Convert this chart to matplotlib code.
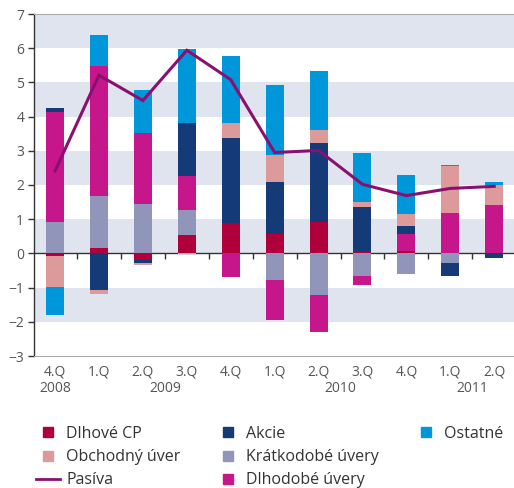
import matplotlib
matplotlib.use('Agg')
import matplotlib.pyplot as plt
import numpy as np
from matplotlib.lines import Line2D
from matplotlib.transforms import blended_transform_factory

quarters = ['4.Q', '1.Q', '2.Q', '3.Q', '4.Q', '1.Q', '2.Q', '3.Q', '4.Q', '1.Q', '2.Q']
years = ['2008', '2009', '2009', '2009', '2009', '2010', '2010', '2010', '2010', '2011', '2011']

dlhove_cp = [-0.09, 0.16, -0.18, 0.54, 0.88, 0.57, 0.93, 0.06, 0.08, 0.0, 0.0]
kratkodobe = [0.93, 1.52, 1.45, 0.73, 0.0, -0.77, -1.23, -0.65, -0.59, -0.27, 0.0]
dlhodobe = [3.20, 3.79, 2.07, 0.99, -0.68, -1.19, -1.07, -0.26, 0.49, 1.19, 1.42]
akcie = [0.11, -1.06, -0.09, 1.55, 2.49, 1.52, 2.30, 1.29, 0.24, -0.40, -0.12]
obchodny = [-0.90, -0.14, -0.06, -0.02, 0.44, 0.79, 0.38, 0.16, 0.35, 1.37, 0.58]
ostatne = [-0.82, 0.93, 1.25, 2.16, 1.95, 2.04, 1.72, 1.42, 1.13, 0.03, 0.09]
pasiva = [2.41, 5.21, 4.47, 5.94, 5.08, 2.95, 3.01, 2.02, 1.69, 1.90, 1.96]

series = [
    ('Dlhové CP', dlhove_cp, '#b0003c'),
    ('Krátkodobé úvery', kratkodobe, '#9095b9'),
    ('Dlhodobé úvery', dlhodobe, '#c6168c'),
    ('Akcie', akcie, '#143a77'),
    ('Obchodný úver', obchodny, '#dc9a9b'),
    ('Ostatné', ostatne, '#0096da'),
]

plt.rcParams['font.family'] = ['Open Sans', 'DejaVu Sans']
txt_col = '#555555'

fig = plt.figure(figsize=(5.14, 4.88), dpi=100)
ax = fig.add_axes([34/514, 1 - 356/488, 1 - 34/514, (356 - 14)/488])

x = np.arange(len(quarters))
ax.set_xlim(-0.48, len(quarters) - 0.55)
ax.set_ylim(-3, 7)

for lo in [6, 4, 2, 0, -2]:
    ax.axhspan(lo, lo + 1, color='#dfe4ee', zorder=0, lw=0)

pos = np.zeros(len(x))
neg = np.zeros(len(x))
width = 0.41
for name, vals, col in series:
    v = np.array(vals)
    bottom = np.where(v >= 0, pos, neg)
    ax.bar(x, v, width, bottom=bottom, color=col, zorder=2, lw=0, label=name)
    pos = pos + np.where(v >= 0, v, 0)
    neg = neg + np.where(v < 0, v, 0)

ax.plot(x, pasiva, color='#8b0f6f', lw=2.2, zorder=3, solid_joinstyle='miter', label='Pasíva')

ax.spines['right'].set_visible(False)
ax.spines['top'].set_color('#aaaaaa')
ax.spines['bottom'].set_color('#aaaaaa')
ax.spines['left'].set_color('#333333')
ax.spines['left'].set_linewidth(1.0)

ax.set_yticks(range(-3, 8))
ax.tick_params(axis='y', direction='out', length=4, width=1, color='#333333',
               labelcolor=txt_col, labelsize=10, pad=3)
ax.set_xticks(x)
ax.set_xticklabels(quarters)
ax.tick_params(axis='x', length=0, labelcolor=txt_col, labelsize=10, pad=6)

# zero line with boundary ticks
sec = ax.secondary_xaxis(0.3)
sec.set_xticks(x[:-1] + 0.5)
sec.tick_params(direction='out', length=4, width=1, color='#333333', labelbottom=False)
sec.spines['bottom'].set_color('#333333')
sec.spines['bottom'].set_linewidth(1.0)

trans = blended_transform_factory(ax.transData, ax.transAxes)
yrs = []
for y in years:
    if y not in yrs:
        yrs.append(y)
for y in yrs:
    idx = [i for i, yy in enumerate(years) if yy == y]
    ax.text(np.mean(idx), -0.094, y, transform=trans, ha='center', va='center',
            fontsize=10, color=txt_col)

handles = {name: Line2D([], [], marker='s', ls='none', color=col, markersize=7)
           for name, vals, col in series}
handles['Pasíva'] = Line2D([], [], color='#8b0f6f', lw=2)
blank = Line2D([], [], ls='none')
order = ['Dlhové CP', 'Obchodný úver', 'Pasíva', 'Akcie', 'Krátkodobé úvery',
         'Dlhodobé úvery', 'Ostatné']
hl = [handles[o] for o in order] + [blank, blank]
labs = order + ['', '']
leg = fig.legend(hl, labs, ncol=3, loc='upper left',
                 bbox_to_anchor=(36/514, 1 - 426/488), frameon=False, fontsize=11.5,
                 handlelength=1.5, handletextpad=0.4, columnspacing=2.2,
                 labelspacing=0.45, borderaxespad=0, borderpad=0)
for t in leg.get_texts():
    t.set_color('#333333')

fig.savefig('out.png', dpi=100)
